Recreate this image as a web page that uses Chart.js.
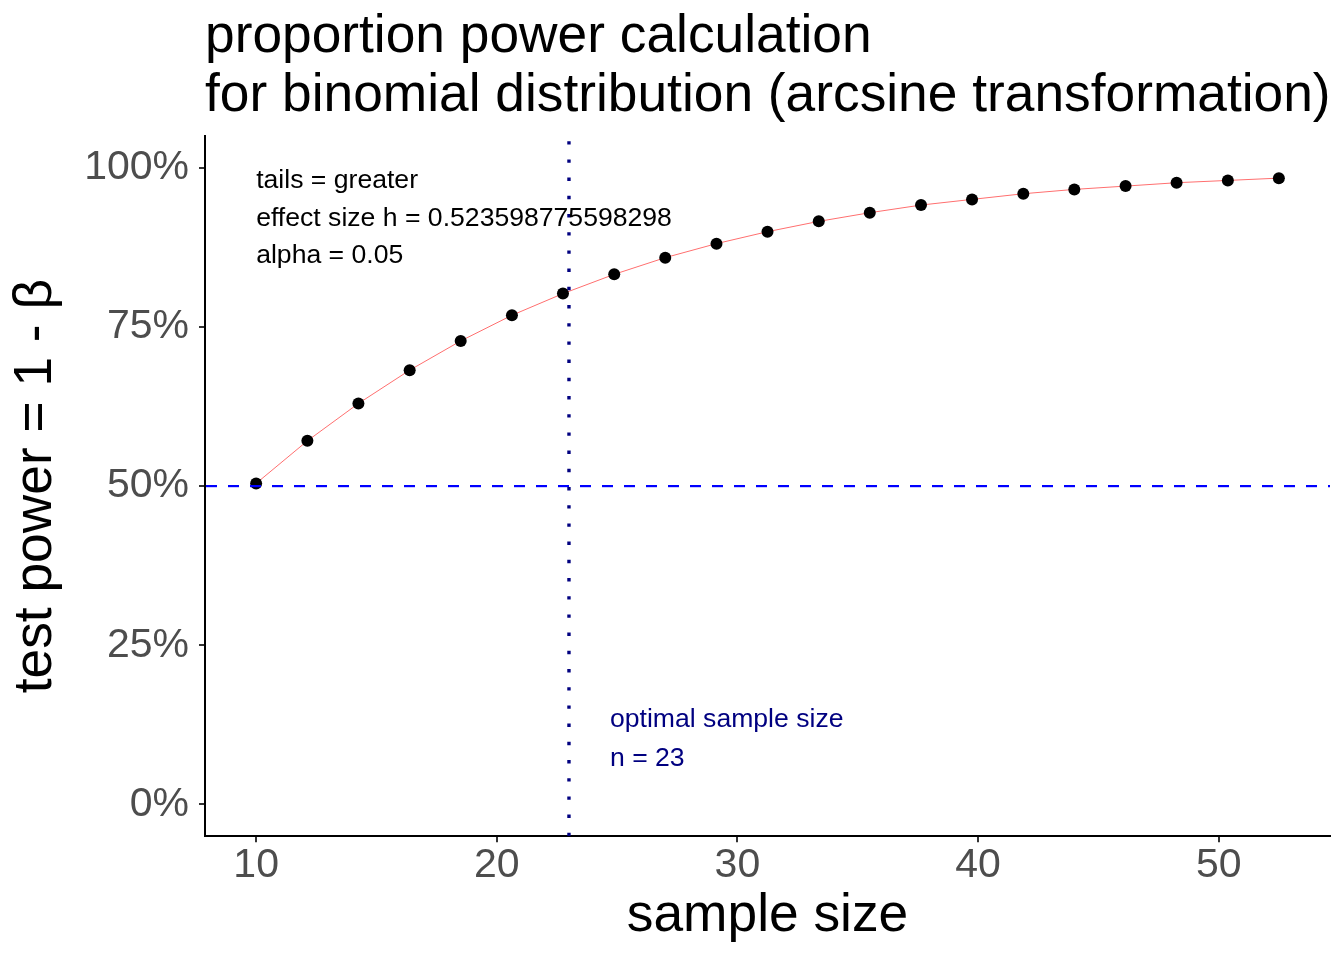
<!DOCTYPE html>
<html><head><meta charset="utf-8">
<script src="https://cdn.jsdelivr.net/npm/chart.js@4.4.1/dist/chart.umd.min.js"></script>
<style>html,body{margin:0;padding:0;background:#fff;}canvas{display:block;}</style>
</head><body>
<canvas id="c" width="1344" height="960"></canvas>
<script>
const sampleSizes = [10, 12.13, 14.25, 16.38, 18.5, 20.63, 22.75, 24.88, 27, 29.13, 31.25, 33.38, 35.5, 37.63, 39.75, 41.88, 44, 46.13, 48.25, 50.38, 52.5];
const powerPct = [50.42, 57.11, 62.98, 68.21, 72.80, 76.84, 80.24, 83.27, 85.89, 88.09, 89.97, 91.59, 92.95, 94.15, 95.04, 95.93, 96.61, 97.13, 97.66, 98.02, 98.38];
const xTicks = [10, 20, 30, 40, 50];
const yTicks = [0, 25, 50, 75, 100];
const optimalN = 23;
const targetPower = 50;
const titleLines = ['proportion power calculation', 'for binomial distribution (arcsine transformation)'];
const paramLines = ['tails = greater', 'effect size h = 0.523598775598298', 'alpha = 0.05'];
const optimalLines = ['optimal sample size', 'n = ' + optimalN];
const xTitle = 'sample size';
const yTitle = 'test power = 1 - \u03B2';

const FONT = '"Liberation Sans", Arial, Helvetica, sans-serif';

const overlay = {
  id: 'overlay',
  afterDatasetsDraw(chart) {
    const {ctx, chartArea: a, scales: {x, y}} = chart;
    ctx.save();
    ctx.beginPath(); ctx.rect(a.left, a.top, a.right - a.left, a.bottom - a.top); ctx.clip();
    const py = y.getPixelForValue(targetPower);
    ctx.strokeStyle = '#0000FF'; ctx.lineWidth = 2.2; ctx.setLineDash([11, 11]);
    ctx.beginPath(); ctx.moveTo(a.left + 1, py); ctx.lineTo(a.right, py); ctx.stroke();
    const px = x.getPixelForValue(optimalN);
    ctx.strokeStyle = '#000080'; ctx.lineWidth = 3.4; ctx.setLineDash([3.4, 14.8]);
    ctx.beginPath(); ctx.moveTo(px, a.bottom); ctx.lineTo(px, a.top); ctx.stroke();
    ctx.restore();

    ctx.save();
    ctx.font = '26.6px ' + FONT;
    ctx.textAlign = 'left'; ctx.textBaseline = 'alphabetic';
    ctx.fillStyle = '#000';
    const x1 = x.getPixelForValue(sampleSizes[0]);
    const y1 = y.getPixelForValue(100) + 20.4;
    paramLines.forEach((t, i) => ctx.fillText(t, x1, y1 + i * 37.5));
    ctx.fillStyle = '#000080';
    const x2 = px + 41;
    const y2 = y.getPixelForValue(0) - 77;
    optimalLines.forEach((t, i) => ctx.fillText(t, x2, y2 + i * 38.5));
    ctx.restore();
  },
  afterDraw(chart) {
    const {ctx, chartArea: a} = chart;
    ctx.save();
    ctx.font = '53.3px ' + FONT;
    ctx.fillStyle = '#000';
    ctx.textAlign = 'left'; ctx.textBaseline = 'alphabetic';
    ctx.fillText(titleLines[0], a.left, 52);
    ctx.fillText(titleLines[1], a.left, 111);
    ctx.restore();
  }
};

new Chart(document.getElementById('c'), {
  type: 'line',
  data: {
    datasets: [{
      data: sampleSizes.map((s, i) => ({x: s, y: powerPct[i]})),
      borderColor: '#FF6F6F',
      borderWidth: 1,
      pointRadius: 6,
      pointHoverRadius: 6,
      pointBackgroundColor: '#000',
      pointBorderColor: '#000',
      pointBorderWidth: 0,
      tension: 0,
      fill: false
    }]
  },
  options: {
    responsive: false,
    animation: false,
    devicePixelRatio: 1,
    layout: {padding: {top: 136, right: 14, left: 0, bottom: 0}},
    plugins: {legend: {display: false}, tooltip: {enabled: false}, title: {display: false}},
    scales: {
      x: {
        type: 'linear', min: 7.875, max: 54.625,
        afterBuildTicks(s) { s.ticks = xTicks.map(v => ({value: v})); },
        afterFit(s) { s.height = 123.8; },
        grid: {display: true, drawOnChartArea: false, drawTicks: true, tickLength: 6, color: '#333333', lineWidth: 2},
        border: {display: true, color: '#000', width: 2},
        ticks: {font: {family: FONT, size: 41, lineHeight: 1}, color: '#4D4D4D', padding: 3, maxRotation: 0, autoSkip: false},
        title: {display: true, text: xTitle, color: '#000', font: {family: FONT, size: 53.3, lineHeight: 1.2}, padding: {top: 0, bottom: 11.6}}
      },
      y: {
        type: 'linear', min: -5, max: 105,
        afterBuildTicks(s) { s.ticks = yTicks.map(v => ({value: v})); },
        afterFit(s) { s.width = 205; },
        grid: {display: true, drawOnChartArea: false, drawTicks: true, tickLength: 6, color: '#333333', lineWidth: 2},
        border: {display: true, color: '#000', width: 2},
        ticks: {font: {family: FONT, size: 41, lineHeight: 1}, color: '#4D4D4D', padding: 10, autoSkip: false, callback: v => v + '%'},
        title: {display: true, text: yTitle, color: '#000', font: {family: FONT, size: 53.3, lineHeight: 1.2}, padding: {top: 4, bottom: 0}}
      }
    }
  },
  plugins: [overlay]
});
</script>
</body></html>
